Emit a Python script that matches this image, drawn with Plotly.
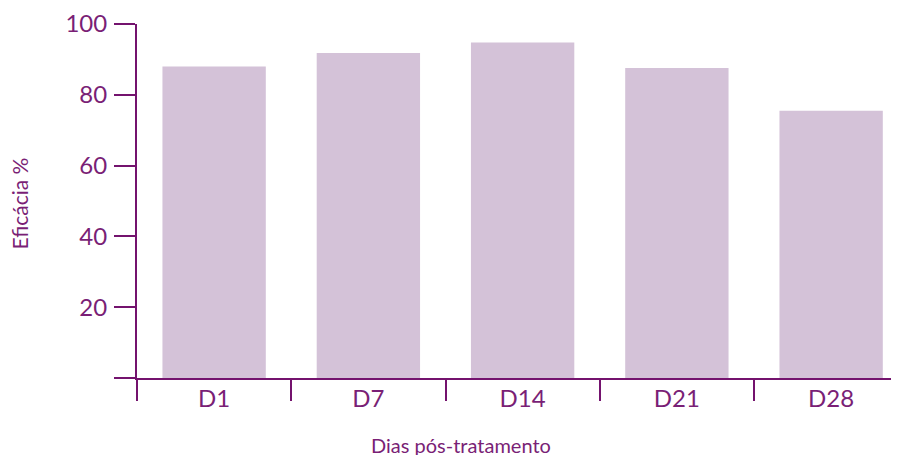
import plotly.graph_objects as go

categories = ["D1", "D7", "D14", "D21", "D28"]
eficacia = [88.0, 91.8, 94.8, 87.6, 75.5]
y_tickvals = [0, 20, 40, 60, 80, 100]
y_ticktext = ["", "20", "40", "60", "80", "100"]

PURPLE = "#74136E"
TEXT = "#7A1F76"
BAR = "#D4C2D8"
FONT = "Lato, 'Open Sans', sans-serif"

OFF = 8  # default page body margin
W, H = 899 - OFF, 455 - OFF
L, R, T, B = 137 - OFF, 0, 24 - OFF, 77

fig = go.Figure(go.Bar(
    x=categories, y=eficacia, width=0.67,
    marker=dict(color=BAR, line=dict(width=0)),
))

fig.update_layout(
    width=W, height=H,
    margin=dict(l=L, r=R, t=T, b=B, pad=0),
    plot_bgcolor="white", paper_bgcolor="white",
    showlegend=False,
    font=dict(family=FONT, color=TEXT),
    xaxis=dict(
        type="category", range=[-0.5, 4.44],
        showline=True, linecolor=PURPLE, linewidth=2,
        ticks="outside", tickson="boundaries", ticklen=21, tickwidth=2, tickcolor=PURPLE,
        tickfont=dict(size=24, color=TEXT, family=FONT),
        ticklabelstandoff=-2,
        showgrid=False, zeroline=False,
    ),
    yaxis=dict(
        range=[0, 100], tickvals=y_tickvals, ticktext=y_ticktext,
        showline=True, linecolor=PURPLE, linewidth=2,
        ticks="outside", ticklen=21, tickwidth=2, tickcolor=PURPLE,
        tickfont=dict(size=24, color=TEXT, family=FONT),
        ticklabelstandoff=2,
        showgrid=False, zeroline=False,
    ),
    annotations=[
        dict(text="Dias pós-tratamento", xref="paper", yref="paper",
             x=(461 - 137) / (W - L - R), y=-(445 - 378.3) / (H - T - B),
             showarrow=False, xanchor="center", yanchor="middle",
             font=dict(size=20, color=TEXT, family=FONT)),
        dict(text="Eficácia %", xref="paper", yref="paper",
             x=-(137 - 18.5) / (W - L - R), y=1 - (204 - 24) / (H - T - B),
             showarrow=False, xanchor="center", yanchor="middle", textangle=-90,
             font=dict(size=21, color=TEXT, family=FONT)),
    ],
)

fig.write_html("out.html")
